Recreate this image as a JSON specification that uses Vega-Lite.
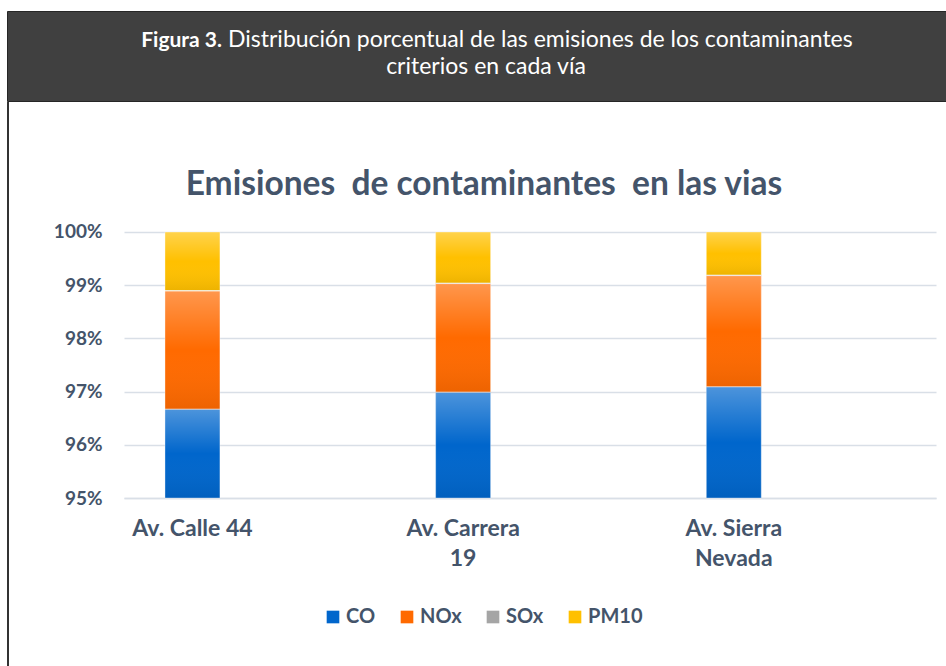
{
  "$schema": "https://vega.github.io/schema/vega-lite/v6.json",
  "padding": {"left": 5, "top": 10, "right": 0, "bottom": 0},
  "background": "white",
  "spacing": 0,
  "config": {"view": {"stroke": null}, "font": "Lato"},
  "vconcat": [
    {
      "width": 941,
      "height": 90,
      "view": {"fill": "#404040", "stroke": "#262626", "strokeWidth": 1},
      "data": {"values": [{"a": "Figura 3.", "b": "Distribución porcentual de las emisiones de los contaminantes", "c": "criterios en cada vía"}]},
      "layer": [
        {
          "mark": {"type": "text", "font": "Lato", "fontSize": 21, "fontWeight": "bold", "color": "white", "align": "right", "baseline": "alphabetic", "x": 215, "y": 36},
          "encoding": {"text": {"field": "a"}}
        },
        {
          "mark": {"type": "text", "font": "Lato", "fontSize": 23, "fontWeight": "normal", "color": "white", "align": "left", "baseline": "alphabetic", "x": 221, "y": 36},
          "encoding": {"text": {"field": "b"}}
        },
        {
          "mark": {"type": "text", "font": "Lato", "fontSize": 23, "fontWeight": "normal", "color": "white", "align": "center", "baseline": "alphabetic", "x": 479, "y": 63},
          "encoding": {"text": {"field": "c"}}
        }
      ]
    },
    {
      "spacing": 0,
      "hconcat": [
        {
          "width": 2,
          "height": 566,
          "view": {"fill": "#333333", "stroke": null},
          "data": {"values": [{}]},
          "mark": {"type": "point", "opacity": 0},
          "encoding": {}
        },
        {
          "width": 812,
          "height": 396,
          "title": {
            "text": "Emisiones\u00a0 de contaminantes\u00a0 en las vias",
            "font": "Lato", "fontSize": 33.5, "fontWeight": "bold", "color": "#44546a",
            "anchor": "middle", "frame": "group", "dx": -46, "offset": -100
          },
          "data": {"values": [
            {"via": "Av. Calle 44", "contaminante": "CO", "pct": 96.67, "ord": 1},
            {"via": "Av. Calle 44", "contaminante": "NOx", "pct": 2.22, "ord": 2},
            {"via": "Av. Calle 44", "contaminante": "SOx", "pct": 0.01, "ord": 3},
            {"via": "Av. Calle 44", "contaminante": "PM10", "pct": 1.10, "ord": 4},
            {"via": "Av. Carrera 19", "contaminante": "CO", "pct": 96.99, "ord": 1},
            {"via": "Av. Carrera 19", "contaminante": "NOx", "pct": 2.04, "ord": 2},
            {"via": "Av. Carrera 19", "contaminante": "SOx", "pct": 0.01, "ord": 3},
            {"via": "Av. Carrera 19", "contaminante": "PM10", "pct": 0.96, "ord": 4},
            {"via": "Av. Sierra Nevada", "contaminante": "CO", "pct": 97.09, "ord": 1},
            {"via": "Av. Sierra Nevada", "contaminante": "NOx", "pct": 2.09, "ord": 2},
            {"via": "Av. Sierra Nevada", "contaminante": "SOx", "pct": 0.01, "ord": 3},
            {"via": "Av. Sierra Nevada", "contaminante": "PM10", "pct": 0.81, "ord": 4}
          ]},
          "encoding": {
            "x": {
              "field": "via", "type": "nominal",
              "sort": ["Av. Calle 44", "Av. Carrera 19", "Av. Sierra Nevada"],
              "scale": {"paddingInner": 0.797, "paddingOuter": 0.3985, "align": 0.19},
              "axis": {
                "title": null, "labelAngle": 0, "ticks": false,
                "domainColor": "#d9dfe7", "domainWidth": 1.5,
                "labelFont": "Lato", "labelFontSize": 23, "labelFontWeight": "bold", "labelColor": "#44546a",
                "labelPadding": 19, "labelLineHeight": 30,
                "labelExpr": "datum.value == 'Av. Carrera 19' ? ['Av. Carrera', '19'] : datum.value == 'Av. Sierra Nevada' ? ['Av. Sierra', 'Nevada'] : datum.value"
              }
            },
            "y": {
              "field": "pct", "type": "quantitative", "stack": "normalize",
              "scale": {"domain": [0.95, 1.024436], "clamp": true, "nice": false, "zero": false},
              "axis": {
                "title": null, "format": ".0%", "values": [0.95, 0.96, 0.97, 0.98, 0.99, 1],
                "ticks": false, "domain": false,
                "gridColor": "#d9dfe7", "gridWidth": 1.5,
                "labelFont": "Lato", "labelFontSize": 19, "labelFontWeight": "bold", "labelColor": "#44546a",
                "labelPadding": 22, "minExtent": 113, "maxExtent": 113
              }
            },
            "order": {"field": "ord", "type": "quantitative"}
          },
          "layer": [
            {
              "mark": {"type": "bar"},
              "encoding": {
                "color": {
                  "field": "contaminante", "type": "nominal",
                  "scale": {"domain": ["CO", "NOx", "SOx", "PM10"], "range": ["#0066cc", "#ff6a00", "#a5a5a5", "#ffc000"]},
                  "legend": {
                    "title": null, "orient": "none", "direction": "horizontal",
                    "legendX": 316, "legendY": 596,
                    "symbolType": "square", "symbolSize": 160, "symbolStrokeWidth": 0,
                    "labelFont": "Lato", "labelFontSize": 20, "labelFontWeight": "bold", "labelColor": "#44546a",
                    "labelOffset": 3, "columnPadding": 21, "padding": 0
                  }
                }
              }
            },
            {
              "mark": {
                "type": "bar",
                "fill": {"gradient": "linear", "x1": 0, "y1": 0, "x2": 0, "y2": 1, "stops": [
                  {"offset": 0, "color": "rgba(255,255,255,0.3)"},
                  {"offset": 0.5, "color": "rgba(255,255,255,0)"},
                  {"offset": 1, "color": "rgba(0,0,0,0.07)"}
                ]},
                "stroke": "rgba(255,255,255,0.35)", "strokeWidth": 1
              },
              "encoding": {"detail": {"field": "contaminante"}}
            }
          ]
        }
      ]
    }
  ]
}
